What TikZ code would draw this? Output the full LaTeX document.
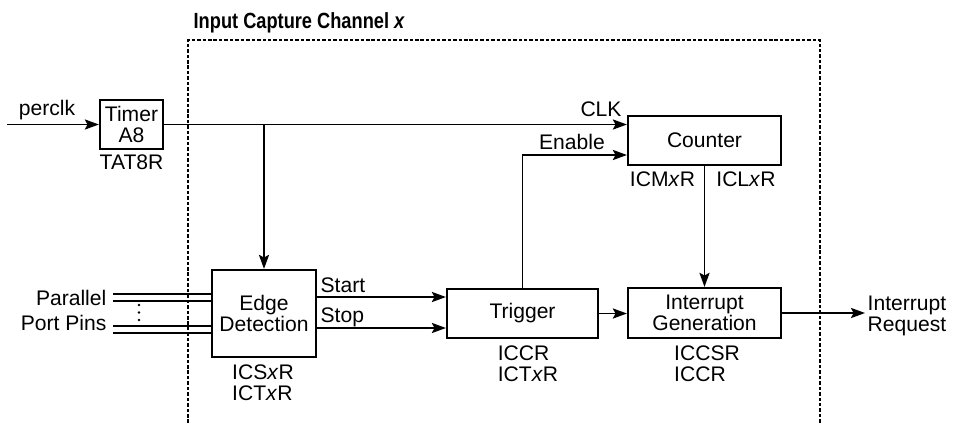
\documentclass[tikz,border=0pt]{standalone}
\usepackage{graphicx}
\usepackage{fontspec}
\setmainfont{Liberation Sans}
\usetikzlibrary{arrows.meta,positioning,calc}
\tikzset{
  flow/.style={>={Stealth[length=8pt,width=5.8pt,inset=1.5pt]},line width=0.75pt},
  blk/.style={draw,line width=1.3pt,align=center,font=\fontsize{12}{12}\selectfont,inner sep=0pt},
  reg/.style={font=\fontsize{12}{12}\selectfont,align=left,inner sep=0pt},
  sig/.style={font=\fontsize{12}{12}\selectfont,inner sep=0pt},
  frame/.style={line width=1.3pt,dash pattern=on 2pt off 1.1pt},
}

\begin{document}
\begin{tikzpicture}[flow,x=0.02cm,y=-0.02cm]
\useasboundingbox (0,0) rectangle (953,423);
% channel frame, open at the bottom
\draw[frame] (188,423) -- (188,40) -- (820,40) -- (820,423);
\node[sig,anchor=base west,font=\fontsize{12.5}{12}\selectfont\bfseries] (title) at (193,28) {\scalebox{0.83}[1]{Input Capture Channel \textit{x}}};

% blocks
\node[blk,minimum width=1.26cm,minimum height=0.98cm] (tmr) at (131.5,124.5) {Timer\\A8};
\node[blk,minimum width=2.08cm,minimum height=1.74cm] (edge) at (264,313.5) {Edge\\Detection};
\node[blk,minimum width=3.02cm,minimum height=0.98cm] (trig) at (522.5,313.5) {Trigger};
\node[blk,minimum width=3.06cm,minimum height=0.98cm] (cnt) at (704.5,140.5) {Counter};
\node[blk,minimum width=3.06cm,minimum height=1.0cm] (irq) at (704.5,313) {Interrupt\\Generation};

% registers
\node[reg] (tat) at (131.5,162) {TAT8R};
\node[reg] (edgereg) at (263,383) {ICS\textit{x}R\\ICT\textit{x}R};
\node[reg] (trigreg) at (528,364) {ICCR\\ICT\textit{x}R};
\node[reg] (irqreg) at (707,364) {ICCSR\\ICCR};
\node[reg] (cntm) at (662.5,179.5) {ICM\textit{x}R};
\node[reg] (cntl) at (746,179.5) {ICL\textit{x}R};

% inputs and output
\coordinate (clkin) at (7,124.5);
\node[sig,anchor=base] (perclk) at (47,115) {perclk};
\node[sig,anchor=base east] (par) at (107,305) {Parallel};
\node[sig,anchor=base east] (pins) at (107,330) {Port Pins};
\foreach \n/\y in {1/294,2/301,3/326,4/333} {
  \coordinate (pin\n) at (113,\y);
  \draw (pin\n) -- (pin\n -| edge.west);
}
\foreach \y in {305,312.5,320} \fill (139,\y) circle (0.8pt);
\coordinate (req) at (865,313);
\node[sig,anchor=west,align=left] (reqtxt) at (867,316) {Interrupt\\Request};

% connections
\draw[->] (clkin) -- (tmr.west);
\draw[->] (tmr.east) -- (tmr.east -| cnt.west);
\node[sig,anchor=base] (clk) at (601,116) {CLK};
\draw[->] (tmr.east -| edge.north) -- (edge.north);
\draw[->] ([yshift=0.33cm]edge.east) -- ([yshift=0.33cm]edge.east -| trig.west);
\draw[->] ([yshift=-0.29cm]edge.east) -- ([yshift=-0.29cm]edge.east -| trig.west);
\node[sig,anchor=base west] (start) at (320,292) {Start};
\node[sig,anchor=base west] (stop) at (320,322) {Stop};
\draw[->] (trig.north) |- ([yshift=-0.29cm]cnt.west);
\node[sig,anchor=base] (en) at (572,149) {Enable};
\draw[->] (cnt.south) -- (irq.north);
\draw[->] (trig.east) -- (trig.east -| irq.west);
\draw[->] (irq.east) -- (req);
\end{tikzpicture}
\end{document}
